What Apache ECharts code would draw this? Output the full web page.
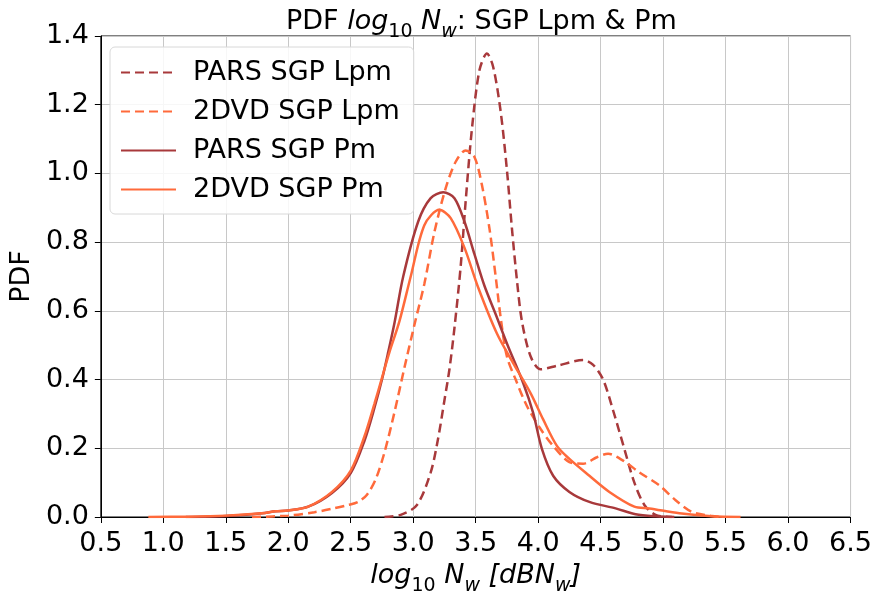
<!DOCTYPE html>
<html>
<head>
<meta charset="utf-8">
<script src="https://cdn.jsdelivr.net/npm/echarts@6/dist/echarts.min.js"></script>
<style>
html, body { margin: 0; padding: 0; background: #fff; }
#main { width: 875px; height: 601px; }
</style>
</head>
<body>
<div id="main"></div>
<script>
// curves (x = log10 Nw, y = PDF)
var parsLpmX = [2.77, 2.9, 3.03, 3.14, 3.20, 3.25, 3.29, 3.33, 3.38, 3.42, 3.47, 3.53, 3.59, 3.64, 3.70, 3.75, 3.79, 3.83, 3.87, 3.94, 4.02, 4.15, 4.36, 4.44, 4.52, 4.60, 4.69, 4.77, 4.85, 4.94, 5.07];
var parsLpmY = [0, 0.006, 0.035, 0.13, 0.23, 0.34, 0.43, 0.55, 0.73, 0.92, 1.13, 1.30, 1.349, 1.31, 1.18, 1.01, 0.84, 0.69, 0.57, 0.467, 0.43, 0.44, 0.457, 0.443, 0.40, 0.31, 0.198, 0.10, 0.035, 0.006, 0];

var dvdLpmX = [1.71, 2.0, 2.21, 2.35, 2.48, 2.56, 2.63, 2.70, 2.77, 2.85, 2.93, 3.01, 3.09, 3.17, 3.26, 3.34, 3.42, 3.49, 3.55, 3.61, 3.66, 3.70, 3.75, 3.82, 3.91, 4.02, 4.12, 4.25, 4.36, 4.47, 4.56, 4.68, 4.81, 4.97, 5.10, 5.23, 5.39, 5.47];
var dvdLpmY = [0, 0.004, 0.014, 0.024, 0.035, 0.044, 0.065, 0.11, 0.188, 0.305, 0.435, 0.56, 0.68, 0.83, 0.957, 1.034, 1.067, 1.048, 0.966, 0.84, 0.70, 0.58, 0.467, 0.40, 0.323, 0.256, 0.207, 0.16, 0.155, 0.174, 0.184, 0.164, 0.13, 0.092, 0.049, 0.015, 0.003, 0];

var parsPmX = [1.18, 1.5, 1.79, 1.90, 2.0, 2.16, 2.35, 2.5, 2.61, 2.69, 2.75, 2.80, 2.85, 2.92, 3.04, 3.14, 3.24, 3.33, 3.41, 3.49, 3.57, 3.66, 3.75, 3.88, 3.96, 4.03, 4.12, 4.25, 4.41, 4.62, 4.78, 4.94, 5.09];
var parsPmY = [0, 0.003, 0.011, 0.017, 0.019, 0.03, 0.07, 0.128, 0.222, 0.318, 0.40, 0.48, 0.565, 0.70, 0.86, 0.928, 0.945, 0.928, 0.86, 0.765, 0.673, 0.59, 0.505, 0.39, 0.303, 0.198, 0.12, 0.073, 0.044, 0.025, 0.008, 0.002, 0];

var dvdPmX = [0.88, 1.2, 1.5, 1.79, 1.90, 2.0, 2.16, 2.35, 2.5, 2.61, 2.69, 2.75, 2.81, 2.89, 2.98, 3.09, 3.21, 3.30, 3.41, 3.52, 3.67, 3.80, 3.94, 4.04, 4.15, 4.25, 4.41, 4.57, 4.77, 4.89, 5.13, 5.39, 5.62];
var dvdPmY = [0, 0.001, 0.004, 0.011, 0.017, 0.019, 0.03, 0.073, 0.135, 0.235, 0.33, 0.405, 0.48, 0.57, 0.70, 0.85, 0.894, 0.87, 0.784, 0.668, 0.534, 0.448, 0.36, 0.284, 0.207, 0.169, 0.12, 0.073, 0.03, 0.025, 0.011, 0.002, 0];

var seriesNames = ['PARS SGP Lpm', '2DVD SGP Lpm', 'PARS SGP Pm', '2DVD SGP Pm'];

function pairs(xs, ys) {
	return xs.map(function(x, i) { return [x, ys[i]]; });
}

var darkRed = '#a8393b', orange = '#ff6a3b';

function line(name, xs, ys, color, dashed) {
	return {
		name: name,
		type: 'line',
		data: pairs(xs, ys),
		smooth: 0.3,
		symbol: 'none',
		lineStyle: { color: color, width: 2.5, type: dashed ? [9, 5] : 'solid' },
		itemStyle: { color: color }
	};
}

var fs = 27;
var chart = echarts.init(document.getElementById('main'));
chart.setOption({
	animation: false,
	title: {
		text: 'PDF {i|log}{s|10} {i|N}{w|w}: SGP Lpm & Pm',
		left: 281,
		top: 3,
		textStyle: {
			fontFamily: 'DejaVu Sans', fontSize: fs, fontWeight: 'normal', color: '#000',
			rich: {
				i: { fontFamily: 'DejaVu Sans', fontSize: fs, fontStyle: 'italic' },
				s: { fontFamily: 'DejaVu Sans', fontSize: 19, verticalAlign: 'bottom', padding: [0, 0, -7, 0] },
				w: { fontFamily: 'DejaVu Sans', fontSize: 19, fontStyle: 'italic', verticalAlign: 'bottom', padding: [0, 0, -7, 0] }
			}
		}
	},
	legend: {
		data: seriesNames,
		orient: 'vertical',
		left: 110,
		top: 47,
		itemWidth: 55,
		itemHeight: 14,
		itemGap: 12,
		padding: [12, 14, 11, 10],
		backgroundColor: 'rgba(255,255,255,0.85)',
		borderColor: '#d8d8d8',
		borderWidth: 1,
		borderRadius: 5,
		itemStyle: { opacity: 0 },
		textStyle: { fontFamily: 'DejaVu Sans', fontSize: fs, color: '#000', padding: [0, 0, 0, 12] }
	},
	grid: { left: 97, right: 22, top: 36, bottom: 79, show: true, borderColor: '#000', borderWidth: 1 },
	xAxis: {
		type: 'value',
		min: 0.5,
		max: 6.5,
		interval: 0.5,
		name: '{i|log}{s|10} {i|N}{w|w} {i|[dBN}{w|w}{i|]}',
		nameLocation: 'middle',
		nameGap: 45,
		nameTextStyle: {
			fontFamily: 'DejaVu Sans', fontSize: fs, color: '#000',
			rich: {
				i: { fontFamily: 'DejaVu Sans', fontSize: fs, fontStyle: 'italic' },
				s: { fontFamily: 'DejaVu Sans', fontSize: 19, verticalAlign: 'bottom', padding: [0, 0, -7, 0] },
				w: { fontFamily: 'DejaVu Sans', fontSize: 19, fontStyle: 'italic', verticalAlign: 'bottom', padding: [0, 0, -7, 0] }
			}
		},
		axisLine: { lineStyle: { color: '#000', width: 1 } },
		axisTick: { show: true, length: 6, lineStyle: { color: '#000' } },
		axisLabel: { fontFamily: 'DejaVu Sans', fontSize: fs, color: '#000', margin: 13, formatter: function(v) { return v.toFixed(1); } },
		splitLine: { show: true, lineStyle: { color: '#c8c8c8', width: 1 } }
	},
	yAxis: {
		type: 'value',
		min: 0,
		max: 1.4,
		interval: 0.2,
		name: 'PDF',
		nameLocation: 'middle',
		nameGap: 57,
		nameTextStyle: { fontFamily: 'DejaVu Sans', fontSize: fs, color: '#000' },
		axisLine: { show: true, lineStyle: { color: '#000', width: 1 } },
		axisTick: { show: true, length: 6, lineStyle: { color: '#000' } },
		axisLabel: { fontFamily: 'DejaVu Sans', fontSize: fs, color: '#000', margin: 12, formatter: function(v) { return v.toFixed(1); } },
		splitLine: { show: true, lineStyle: { color: '#c8c8c8', width: 1 } }
	},
	series: [
		line(seriesNames[0], parsLpmX, parsLpmY, darkRed, true),
		line(seriesNames[1], dvdLpmX, dvdLpmY, orange, true),
		line(seriesNames[2], parsPmX, parsPmY, darkRed, false),
		line(seriesNames[3], dvdPmX, dvdPmY, orange, false)
	]
});
window.addEventListener('resize', chart.resize);
</script>
</body>
</html>
